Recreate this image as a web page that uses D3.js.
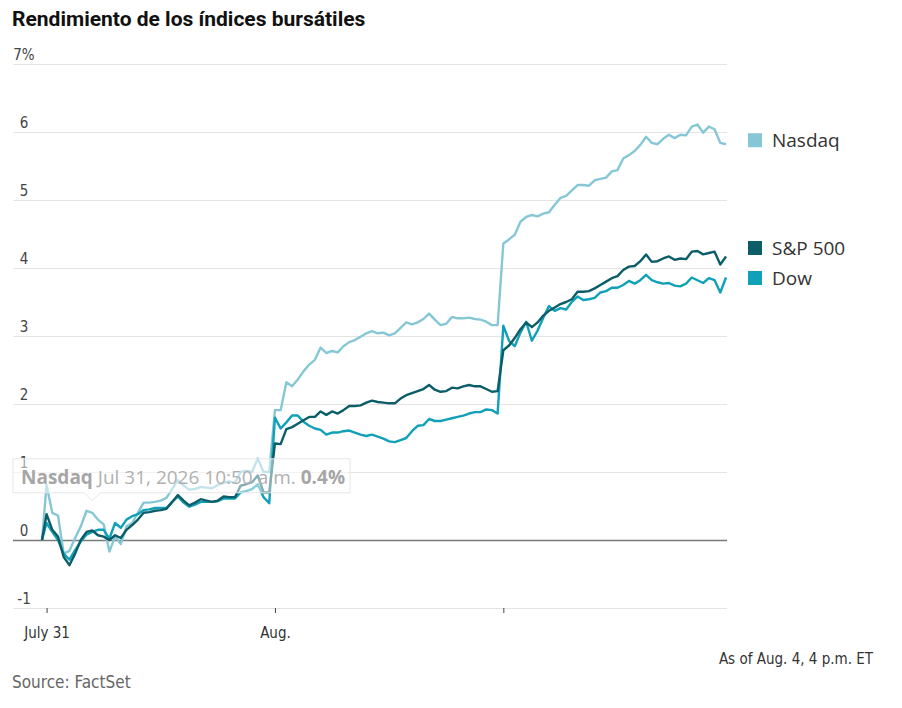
<!DOCTYPE html>
<html>
<head>
<meta charset="utf-8">
<script src="https://cdn.jsdelivr.net/npm/d3@7"></script>
<style>
  body { margin: 0; background: #fff; }
  .narrow { font-family: "Liberation Sans Narrow", "DejaVu Sans Condensed", Roboto, sans-serif; }
</style>
</head>
<body>
<script>
// trading sessions shown on the x axis, one 10-minute slot per value (9:30 .. 16:00)
const sessions = ["Jul 31", "Aug 3", "Aug 4"];
const xTickLabels = ["July 31", "Aug.", ""];
const yTicks = [-1, 0, 1, 2, 3, 4, 5, 6, 7];
const prevClose = 0;

// % change vs. previous close
const nasdaqJul31 = [0.81,0.40,0.36,-0.20,-0.16,0.03,0.20,0.43,0.40,0.30, 0.23,-0.17,0.05,-0.06,0.20,0.25,0.40,0.55,0.55,0.56, 0.58,0.62,0.75,0.88,0.80,0.74,0.75,0.78,0.77,0.76, 0.81,0.84,0.86,0.84,1.00,1.02,1.00,1.20,1.00,1.00];
const spJul31     = [0.38,0.15,0.05,-0.25,-0.37,-0.20,0.00,0.12,0.14,0.07, 0.05,0.00,0.07,0.03,0.15,0.22,0.30,0.40,0.41,0.43, 0.44,0.46,0.56,0.66,0.58,0.51,0.55,0.60,0.58,0.56, 0.58,0.64,0.63,0.63,0.80,0.82,0.85,0.95,0.70,0.70];
const dowJul31    = [0.25,0.12,0.00,-0.20,-0.29,-0.15,-0.02,0.08,0.12,0.15, 0.15,0.02,0.25,0.18,0.30,0.35,0.38,0.44,0.45,0.47, 0.47,0.47,0.56,0.64,0.55,0.49,0.52,0.56,0.56,0.56, 0.57,0.61,0.61,0.61,0.70,0.72,0.75,0.82,0.63,0.54];

const nasdaqAug3 = [1.91,1.91,2.32,2.26,2.36,2.48,2.58,2.65,2.83,2.75, 2.78,2.76,2.85,2.91,2.94,2.99,3.04,3.07,3.04,3.05, 3.01,3.04,3.12,3.20,3.17,3.20,3.25,3.33,3.24,3.16, 3.18,3.28,3.26,3.26,3.27,3.25,3.24,3.21,3.16,3.16];
const spAug3     = [1.42,1.41,1.63,1.66,1.71,1.76,1.81,1.81,1.89,1.84, 1.89,1.86,1.91,1.97,1.97,1.98,2.02,2.05,2.03,2.02, 2.01,2.01,2.08,2.13,2.16,2.19,2.22,2.28,2.21,2.18, 2.19,2.24,2.23,2.26,2.28,2.26,2.26,2.22,2.18,2.19];
const dowAug3    = [1.80,1.64,1.73,1.83,1.83,1.74,1.68,1.64,1.62,1.55, 1.58,1.58,1.60,1.61,1.58,1.55,1.53,1.55,1.52,1.49, 1.45,1.44,1.47,1.50,1.60,1.68,1.69,1.78,1.75,1.75, 1.77,1.79,1.81,1.83,1.86,1.88,1.88,1.92,1.91,1.86];

const nasdaqAug4 = [4.36,4.42,4.49,4.68,4.75,4.78,4.76,4.80,4.82,4.93, 5.03,5.06,5.14,5.22,5.22,5.21,5.29,5.31,5.33,5.42, 5.44,5.61,5.66,5.72,5.81,5.93,5.84,5.82,5.90,5.96, 5.91,5.96,5.95,6.08,6.11,5.99,6.08,6.04,5.84,5.82];
const spAug4     = [2.79,2.86,2.97,3.10,3.20,3.13,3.20,3.30,3.37,3.42, 3.47,3.50,3.54,3.65,3.65,3.66,3.70,3.75,3.80,3.85, 3.88,3.97,4.02,4.03,4.10,4.20,4.09,4.10,4.14,4.17, 4.12,4.14,4.13,4.24,4.25,4.20,4.22,4.24,4.05,4.17];
const dowAug4    = [3.15,2.93,2.85,3.05,3.21,2.93,3.08,3.27,3.44,3.37, 3.41,3.39,3.50,3.58,3.53,3.54,3.56,3.64,3.66,3.71, 3.71,3.75,3.81,3.77,3.82,3.90,3.82,3.79,3.77,3.78, 3.74,3.73,3.77,3.86,3.82,3.78,3.85,3.82,3.64,3.86];

const tooltip = { series: "Nasdaq", session: 0, slot: 8, label: "Jul 31, 2026 10:50 a.m." };

const width = 902, height = 708;
const slotMinutes = 10, sessionLength = 400; // 390 trading minutes + overnight step

function toPoints(days) {
  const pts = [{ t: -8, v: prevClose }];
  days.forEach((vals, d) => vals.forEach((v, k) => pts.push({ t: d * sessionLength + k * slotMinutes, v })));
  return pts;
}

const series = [
  { name: "Nasdaq",  color: "#86c7d6", values: toPoints([nasdaqJul31, nasdaqAug3, nasdaqAug4]) },
  { name: "Dow",     color: "#10a0b8", values: toPoints([dowJul31, dowAug3, dowAug4]) },
  { name: "S&P 500", color: "#0b5d68", values: toPoints([spJul31, spAug3, spAug4]) }
];

const svg = d3.select("body")
  .append("svg")
  .attr("xmlns", "http://www.w3.org/2000/svg")
  .attr("width", width)
  .attr("height", height);

const x = d3.scaleLinear()
  .domain([-8, (sessions.length - 1) * sessionLength + 390])
  .range([42, 726]);

const y = d3.scaleLinear()
  .domain([-1, 7])
  .range([608, 64]);

// title
svg.append("text")
  .attr("x", 12).attr("y", 26)
  .attr("font-family", "Roboto, 'Liberation Sans', sans-serif")
  .attr("font-weight", 700)
  .attr("font-size", 21)
  .attr("fill", "#111")
  .text("Rendimiento de los índices bursátiles");

// gridlines + y labels
const yAxis = d3.axisRight(y)
  .tickValues(yTicks)
  .tickSize(714)
  .tickFormat(d => d === 7 ? d + "%" : d);

const yAxisG = svg.append("g")
  .attr("class", "y-axis narrow")
  .attr("transform", "translate(13,0)")
  .call(yAxis);
yAxisG.select(".domain").remove();
yAxisG.selectAll(".tick line")
  .attr("stroke", d => d === 0 ? "#7a7a7a" : "#e4e4e4")
  .attr("stroke-width", d => d === 0 ? 1.6 : 1);
yAxisG.selectAll(".tick text")
  .attr("x", 11)
  .attr("dy", -5)
  .attr("text-anchor", "middle")
  .attr("font-size", 15)
  .attr("fill", "#444");

// x axis ticks
const xAxis = d3.axisBottom(x)
  .tickValues(sessions.map((s, i) => i * sessionLength))
  .tickSize(5)
  .tickFormat((d, i) => xTickLabels[i]);

const xAxisG = svg.append("g")
  .attr("class", "x-axis narrow")
  .attr("transform", `translate(0,${y(-1)})`)
  .call(xAxis);
xAxisG.select(".domain").remove();
xAxisG.selectAll(".tick line").attr("stroke", "#444");
xAxisG.selectAll(".tick text")
  .attr("y", 30).attr("dy", 0)
  .attr("font-size", 15)
  .attr("fill", "#333");

// lines
const line = d3.line()
  .x(d => x(d.t))
  .y(d => y(d.v));

svg.append("g").attr("class", "lines")
  .selectAll("path")
  .data(series)
  .join("path")
  .attr("d", d => line(d.values))
  .attr("fill", "none")
  .attr("stroke", d => d.color)
  .attr("stroke-width", 2.4)
  .attr("stroke-linejoin", "round");

// legend at line ends, nudged apart
const legendOrder = ["Nasdaq", "S&P 500", "Dow"];
const legend = legendOrder.map(n => {
  const s = series.find(e => e.name === n);
  return { name: n, color: s.color, ly: y(s.values[s.values.length - 1].v) - 4 };
});
for (let iter = 0; iter < 20; iter++) {
  for (let i = 1; i < legend.length; i++) {
    const gap = legend[i].ly - legend[i - 1].ly;
    if (gap < 30) {
      const push = (30 - gap) / 2;
      legend[i - 1].ly -= push;
      legend[i].ly += push;
    }
  }
}
const legendG = svg.append("g").attr("class", "legend");
legendG.selectAll("rect")
  .data(legend)
  .join("rect")
  .attr("x", 748).attr("y", d => d.ly - 7)
  .attr("width", 14).attr("height", 14)
  .attr("fill", d => d.color);
legendG.selectAll("text")
  .data(legend)
  .join("text")
  .attr("x", 772).attr("y", d => d.ly + 7)
  .attr("font-family", "'Open Sans', 'Noto Sans', sans-serif")
  .attr("font-size", 19)
  .attr("fill", "#333")
  .text(d => d.name);

// hover tooltip frozen on the picture
const tipSeries = series.find(s => s.name === tooltip.series);
const tipPoint = tipSeries.values[1 + tooltip.session * nasdaqJul31.length + tooltip.slot];
const tipX = x(tipPoint.t), tipY = y(tipPoint.v) - 12;
const boxBottom = tipY - 8, boxTop = boxBottom - 34;
const tipG = svg.append("g").attr("class", "tooltip");
tipG.append("path")
  .attr("d", `M13,${boxTop} H350 V${boxBottom} H${tipX + 8} L${tipX},${tipY} L${tipX - 8},${boxBottom} H13 Z`)
  .attr("fill", "rgba(255,255,255,0.5)")
  .attr("stroke", "#e6e6e6");
const tipText = tipG.append("text")
  .attr("x", 21).attr("y", boxBottom - 9)
  .attr("font-family", "'Open Sans', 'Noto Sans', sans-serif")
  .attr("font-size", 19)
  .attr("fill", "#b0b0b0");
tipText.append("tspan").attr("font-weight", 700).attr("fill", "#a6a6a6").text(tooltip.series);
tipText.append("tspan").text(" " + tooltip.label + " ");
tipText.append("tspan").attr("font-weight", 700).attr("fill", "#a6a6a6").text(d3.format(".1f")(tipPoint.v) + "%");

// footnotes
svg.append("text")
  .attr("class", "narrow")
  .attr("x", 873).attr("y", 664)
  .attr("text-anchor", "end")
  .attr("font-size", 15)
  .attr("fill", "#333")
  .text("As of Aug. 4, 4 p.m. ET");

svg.append("text")
  .attr("class", "narrow")
  .attr("x", 12).attr("y", 688)
  .attr("font-size", 17)
  .attr("fill", "#666")
  .text("Source: FactSet");
</script>
</body>
</html>
